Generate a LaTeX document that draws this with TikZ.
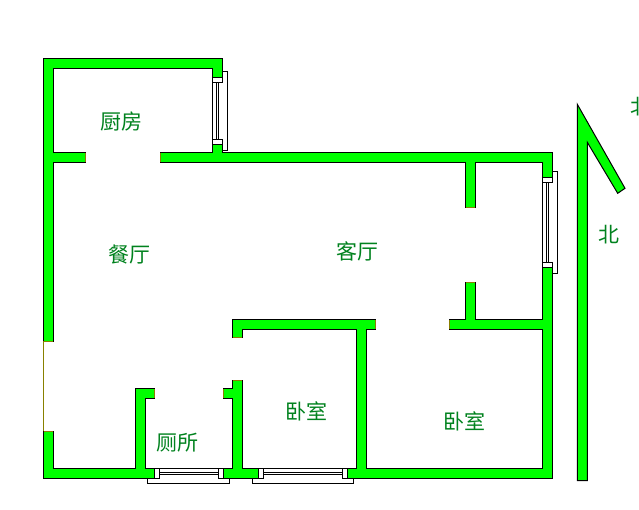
\documentclass[tikz,border=0pt]{standalone}
\usepackage{fontspec}
\newfontfamily\cjk{Noto Sans CJK SC}[Scale=1.0]
\definecolor{wallgreen}{RGB}{0,255,0}
\definecolor{wallend}{RGB}{136,128,0}
\definecolor{labelgreen}{RGB}{0,130,30}
\tikzset{
  wall/.style={draw=black,fill=wallgreen,line width=1pt,miter limit=10},
  wallcap/.style={draw=wallend,line width=1pt},
  win/.style={draw=black,fill=white,line width=1pt},
  room/.style={font=\cjk\fontsize{21}{21}\selectfont,text=labelgreen,inner sep=0pt},
}
\begin{document}
\begin{tikzpicture}[x=1pt,y=-1pt]
\useasboundingbox (0,0) rectangle (639,509);
\fill[white] (0,0) rectangle (639,509);
% windows
\draw[win] (218.3,71.7) rectangle (227.3,150.7);
\draw[win] (212.7,82.3) rectangle (216,139.3);
\draw[win] (212.7,77.3) rectangle (222.3,82.3);
\draw[win] (212.7,139.3) rectangle (222.3,144.3);
\draw[win] (548.3,171.3) rectangle (557.3,273.3);
\draw[win] (542.7,182.3) rectangle (546,262.3);
\draw[win] (542.7,177.3) rectangle (552.3,182.3);
\draw[win] (542.7,262.3) rectangle (552.3,267.3);
\draw[win] (147.3,474.3) rectangle (229.3,483.3);
\draw[win] (159.3,468.3) rectangle (218.3,472.3);
\draw[win] (154.3,468.3) rectangle (159.3,478.3);
\draw[win] (218.3,468.3) rectangle (223.3,478.3);
\draw[win] (252.3,474.3) rectangle (353.7,483.3);
\draw[win] (263.3,468.3) rectangle (342.3,472.3);
\draw[win] (258.3,468.3) rectangle (263.3,478.3);
\draw[win] (342.3,468.3) rectangle (347.3,478.3);
% walls
\draw[wall] (43.7,58.3) -- (222.3,58.3) -- (222.3,77.3) -- (212.7,77.3) -- (212.7,68.3) -- (53.3,68.3) -- (53.3,152.7) -- (85,152.7) -- (85,162.3) -- (53.3,162.3) -- (53.3,341.3) -- (43.7,341.3) -- cycle;
\draw[wall] (160.3,152.7) -- (212.7,152.7) -- (212.7,144.3) -- (222.3,144.3) -- (222.3,152.7) -- (552.3,152.7) -- (552.3,177.3) -- (542.7,177.3) -- (542.7,162.3) -- (475.3,162.3) -- (475.3,207.3) -- (465.7,207.3) -- (465.7,162.3) -- (160.3,162.3) -- cycle;
\draw[wall] (542.7,267.3) -- (552.3,267.3) -- (552.3,478.3) -- (347.3,478.3) -- (347.3,468.3) -- (356.7,468.3) -- (356.7,329.3) -- (242.3,329.3) -- (242.3,337.3) -- (232.7,337.3) -- (232.7,319.3) -- (375.7,319.3) -- (375.7,329.3) -- (366.3,329.3) -- (366.3,468.3) -- (542.7,468.3) -- (542.7,329.3) -- (449.3,329.3) -- (449.3,319.3) -- (465.7,319.3) -- (465.7,282.3) -- (475.3,282.3) -- (475.3,319.3) -- (542.7,319.3) -- cycle;
\draw[wall] (43.7,431.3) -- (53.3,431.3) -- (53.3,468.3) -- (135.7,468.3) -- (135.7,388.7) -- (154.3,388.7) -- (154.3,398.3) -- (145.3,398.3) -- (145.3,468.3) -- (154.3,468.3) -- (154.3,478.3) -- (43.7,478.3) -- cycle;
\draw[wall] (223.3,478.3) -- (223.3,468.3) -- (232.7,468.3) -- (232.7,398.3) -- (223.3,398.3) -- (223.3,388.7) -- (232.7,388.7) -- (232.7,380.3) -- (242.3,380.3) -- (242.3,468.3) -- (258.3,468.3) -- (258.3,478.3) -- cycle;
% north arrow
\draw[wall] (577.3,480.7) -- (577.3,104.3) -- (625,188.3) -- (617.7,193.3) -- (587.3,142.3) -- (587.3,480.7) -- cycle;
% open wall ends
\draw[wallcap] (85,153.2) -- (85,161.8);
\draw[wallcap] (160.3,153.2) -- (160.3,161.8);
\draw[wallcap] (466.2,207.3) -- (474.8,207.3);
\draw[wallcap] (466.2,282.3) -- (474.8,282.3);
\draw[wallcap] (449.3,319.8) -- (449.3,328.8);
\draw[wallcap] (375.7,319.8) -- (375.7,328.8);
\draw[wallcap] (233.2,337.3) -- (241.8,337.3);
\draw[wallcap] (233.2,380.3) -- (241.8,380.3);
\draw[wallcap] (223.3,389.2) -- (223.3,397.8);
\draw[wallcap] (154.3,389.2) -- (154.3,397.8);
\draw[wallcap] (44.2,341.3) -- (52.8,341.3);
\draw[wallcap] (44.2,431.3) -- (52.8,431.3);
\draw[wallcap] (43.7,341.3) -- (43.7,431.3);
% labels
\node[room] (kitchen) at (121,121) {厨房};
\node[room] (dining) at (129.5,254) {餐厅};
\node[room] (living) at (357,251) {客厅};
\node[room] (bedroomA) at (306,411.5) {卧室};
\node[room] (bedroomB) at (464,421) {卧室};
\node[room] (toilet) at (177,443) {厕所};
\node[room] (northA) at (609,235) {北};
\node[room] (northB) at (641,107) {北};
\end{tikzpicture}
\end{document}
